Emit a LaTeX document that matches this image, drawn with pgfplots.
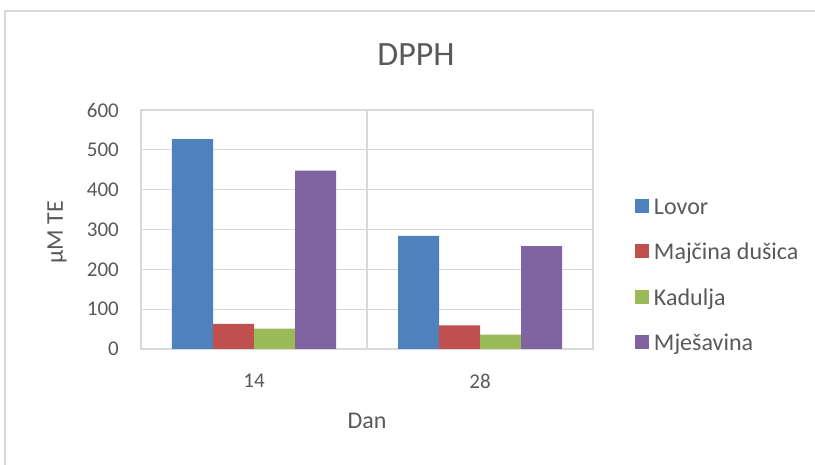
\documentclass[border=0pt]{standalone}
\usepackage{fontspec}
\setmainfont{Carlito}
\usepackage{pgfplots}
\pgfplotsset{compat=1.18}
\definecolor{c1}{HTML}{4F81BD}
\definecolor{c2}{HTML}{C0504D}
\definecolor{c3}{HTML}{9BBB59}
\definecolor{c4}{HTML}{8064A2}
\definecolor{txt}{HTML}{595959}
\definecolor{gridc}{HTML}{D9D9D9}
\begin{document}
\begin{tikzpicture}[x=1pt,y=1pt]
\useasboundingbox (0,0) rectangle (815,464);
\draw[gridc, line width=1.2pt] (5,-5) -- (5,453) -- (830,453);
\begin{axis}[
  at={(141pt,115pt)}, anchor=south west,
  scale only axis, width=452pt, height=239pt,
  ymin=0, ymax=600, xmin=-0.5, xmax=1.5,
  ybar=0pt, bar width=41pt,
  xtick={0,1}, xticklabels={14,28},
  minor xtick={0.5},
  ytick={0,100,...,600},
  ymajorgrids, xminorgrids,
  major tick length=0pt, minor tick length=0pt,
  axis line style={gridc, line width=1.2pt},
  grid style={gridc, line width=1.2pt},
  /pgf/number format/assume math mode=true,
  tick label style={font=\fontsize{21}{25}\selectfont, text=txt},
  xticklabel style={anchor=center, yshift=-32pt},
  yticklabel style={anchor=east, inner sep=0pt, xshift=-22pt},
  legend style={draw=none, fill=none, inner sep=0pt, outer sep=0pt,
    at={(1.0929,0.629)}, anchor=north west,
    nodes={inner sep=0pt, text height=15pt, text depth=0pt, text=txt, font=\fontsize{24}{28}\selectfont},
    row sep=30pt, column sep=5pt},
  legend cell align=left,
  legend image code/.code={\fill[#1] (0pt,-6pt) rectangle (14pt,8pt);},
]
\addplot[fill=c1, draw=none] coordinates {(0,527) (1,284)};
\addplot[fill=c2, draw=none] coordinates {(0,63) (1,59)};
\addplot[fill=c3, draw=none] coordinates {(0,51) (1,36)};
\addplot[fill=c4, draw=none] coordinates {(0,448) (1,258)};
\legend{Lovor, Majčina dušica, Kadulja, Mješavina}
\end{axis}
\node[text=txt, font=\fontsize{34}{40}\selectfont] at (416,409) {DPPH};
\node[text=txt, font=\fontsize{24}{28}\selectfont] at (367,43) {Dan};
\node[text=txt, font=\fontsize{24}{28}\selectfont, rotate=90] at (57,232) {µM TE};
\end{tikzpicture}
\end{document}
